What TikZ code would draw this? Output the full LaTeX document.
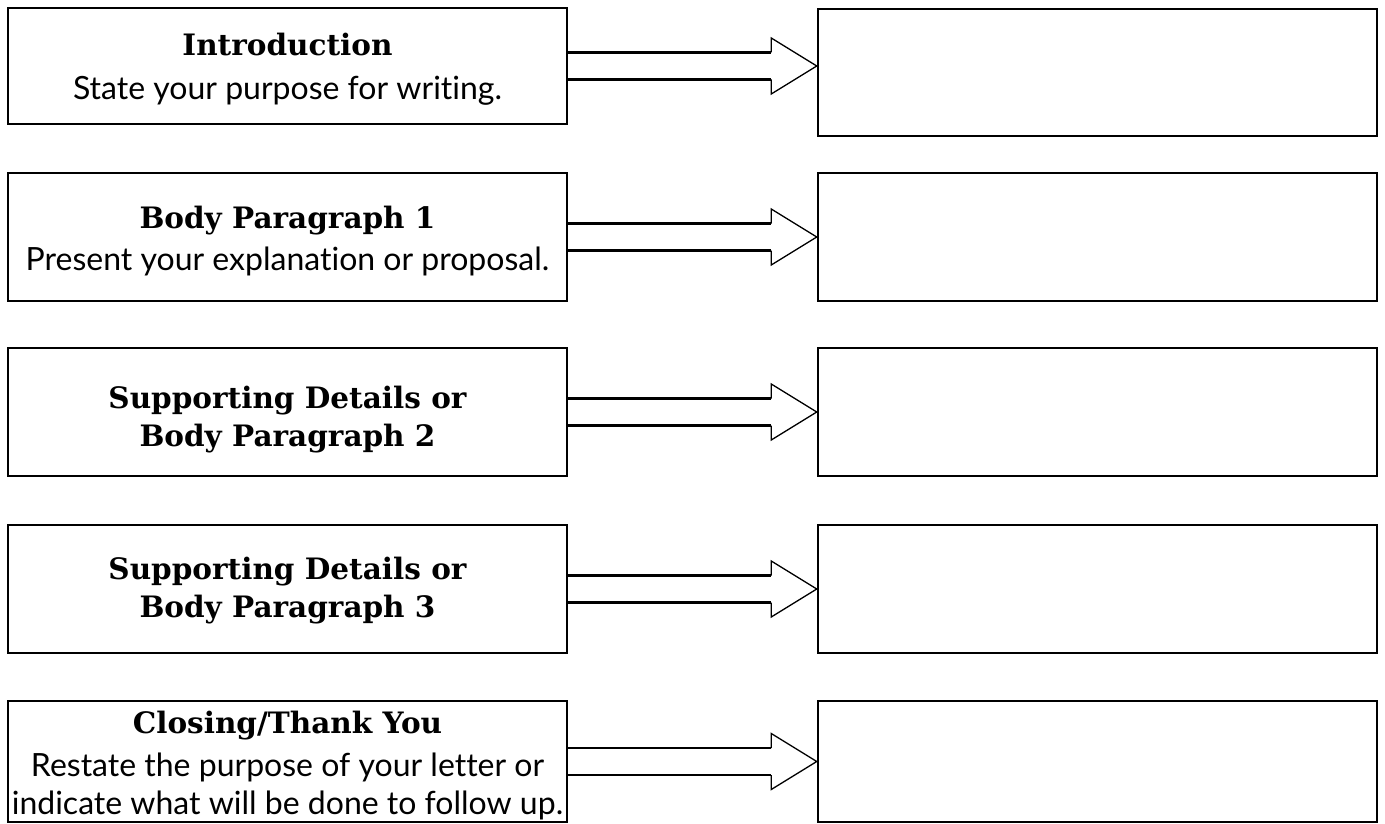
\documentclass[tikz,border=0pt]{standalone}
\usepackage{fontspec}
\setmainfont{Lato}[Ligatures=NoCommon]
\newfontfamily\headfont{DejaVu Serif}
\usetikzlibrary{calc}
\tikzset{
  leftbox/.style={draw=black, line width=2.5pt, minimum width=559pt, inner sep=0pt},
  rightbox/.style={draw=black, line width=2.5pt, minimum width=559pt, inner sep=0pt},
  headtxt/.style={anchor=base, inner sep=0pt, font=\headfont\bfseries\fontsize{29.5}{36}\selectfont},
  bodytxt/.style={anchor=base, inner sep=0pt, font=\fontsize{32}{38}\selectfont},
  shaft/.style={line width=2.6pt},
  head/.style={line width=1.3pt, line join=miter},
}
\newcommand{\blockarrow}[2]{%
  \draw[head] ($(#1.east)+(203pt,13.5pt)$) -- ($(#1.east)+(203pt,28pt)$) -- (#2) -- ($(#1.east)+(203pt,-28pt)$) -- ($(#1.east)+(203pt,-13.5pt)$);
  \draw[shaft] ($(#1.east)+(0,13.5pt)$) -- ($(#1.east)+(203pt,13.5pt)$);
  \draw[shaft] ($(#1.east)+(0,-13.5pt)$) -- ($(#1.east)+(203pt,-13.5pt)$);
}
\begin{document}
\begin{tikzpicture}[x=1pt,y=-1pt]
\useasboundingbox (0,0) rectangle (1385,824);
% left boxes
\node[leftbox, minimum height=116pt] (L1) at (287.5,66) {};
\node[leftbox, minimum height=128pt] (L2) at (287.5,237) {};
\node[leftbox, minimum height=128pt] (L3) at (287.5,412) {};
\node[leftbox, minimum height=128pt] (L4) at (287.5,589) {};
\node[leftbox, minimum height=121pt] (L5) at (287.5,761.5) {};
% texts
\node[headtxt] (L1a) at (287.5,56) {Introduction};
\node[bodytxt] (L1b) at (287.5,100) {State your purpose for writing.};
\node[headtxt] (L2a) at (287.5,228) {Body Paragraph 1};
\node[bodytxt] (L2b) at (287.5,270) {Present your explanation or proposal.};
\node[headtxt] (L3a) at (287.5,408) {Supporting Details or};
\node[headtxt] (L3b) at (287.5,446) {Body Paragraph 2};
\node[headtxt] (L4a) at (287.5,579) {Supporting Details or};
\node[headtxt] (L4b) at (287.5,617) {Body Paragraph 3};
\node[headtxt] (L5a) at (287.5,733) {Closing/Thank You};
\node[bodytxt] (L5b) at (287.5,776) {Restate the purpose of your letter or};
\node[bodytxt] (L5c) at (287.5,814) {indicate what will be done to follow up.};
% right boxes
\node[rightbox, minimum height=127pt] (R1) at (1097.5,72.5) {};
\node[rightbox, minimum height=128pt] (R2) at (1097.5,237) {};
\node[rightbox, minimum height=128pt] (R3) at (1097.5,412) {};
\node[rightbox, minimum height=128pt] (R4) at (1097.5,589) {};
\node[rightbox, minimum height=121pt] (R5) at (1097.5,761.5) {};
% arrow tips on the right boxes
\coordinate (T1) at (R1.west |- L1.east);
\coordinate (T2) at (R2.west |- L2.east);
\coordinate (T3) at (R3.west |- L3.east);
\coordinate (T4) at (R4.west |- L4.east);
\coordinate (T5) at (R5.west |- L5.east);
\blockarrow{L1}{T1}
\blockarrow{L2}{T2}
\blockarrow{L3}{T3}
\blockarrow{L4}{T4}
\blockarrow{L5}{T5}
\end{tikzpicture}
\end{document}
